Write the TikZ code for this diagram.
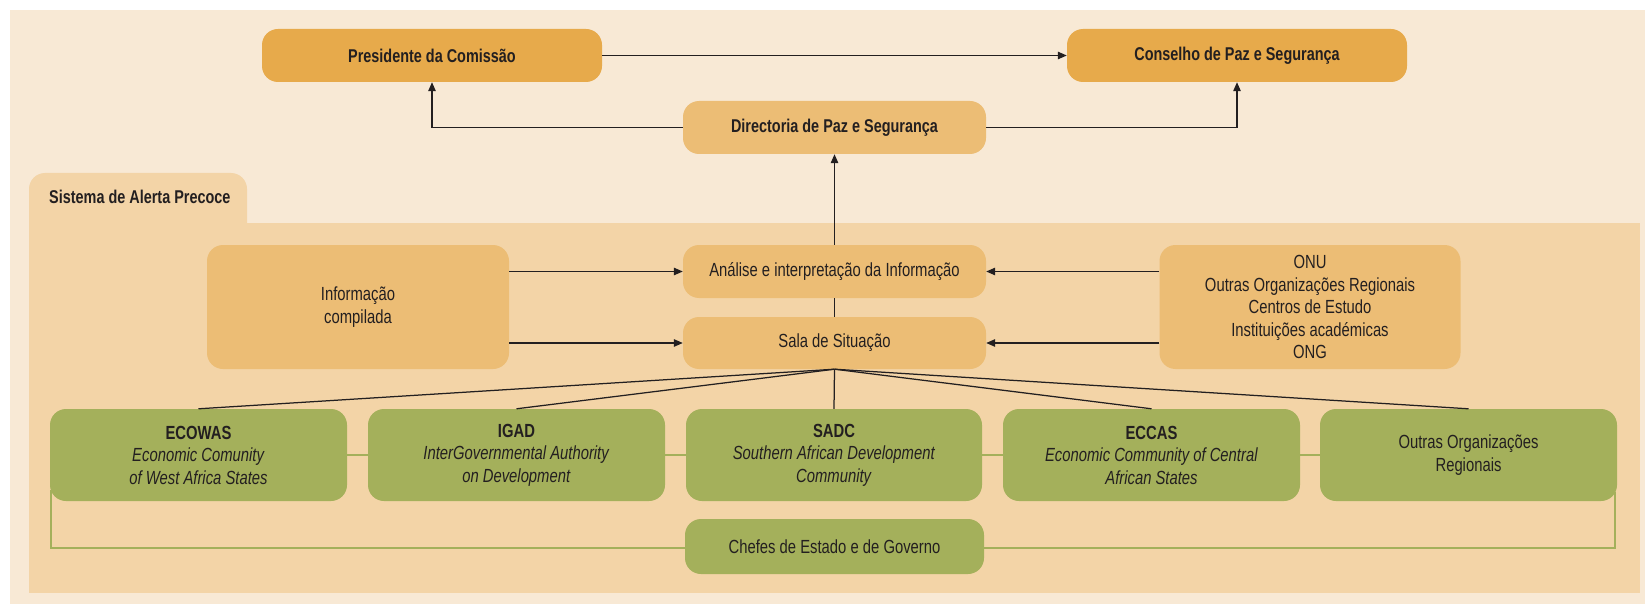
\documentclass[tikz,border=0pt]{standalone}
\usepackage{fontspec}
\setmainfont{Liberation Sans}[FakeStretch=0.78]
\usetikzlibrary{arrows.meta}
\definecolor{bgl}{HTML}{F8E9D5}
\definecolor{panel}{HTML}{F3D4A7}
\definecolor{ortop}{HTML}{E7AA4B}
\definecolor{orl}{HTML}{ECBD75}
\definecolor{grn}{HTML}{A4B05B}
\definecolor{ink}{HTML}{231F20}
\tikzset{
  box/.style={rounded corners=16pt, inner sep=0pt, align=center, text=ink,
    font=\fontsize{19}{22.5}\selectfont},
  boldtext/.style={font=\fontsize{18.5}{22.5}\selectfont\bfseries},
  topbox/.style={box, fill=ortop, minimum width=340pt, minimum height=53pt, boldtext},
  midbox/.style={box, fill=orl, minimum width=303pt, minimum height=53pt},
  bigbox/.style={box, fill=orl, minimum width=301pt, minimum height=124pt},
  gbox/.style={box, fill=grn, minimum width=297pt, minimum height=92pt},
  arr/.style={draw=ink, line width=1.25pt, -{Triangle[length=9pt,width=7.5pt]}},
  ln/.style={draw=ink, line width=1.25pt},
  gln/.style={draw=grn, line width=2.4pt},
}
\begin{document}
\begin{tikzpicture}[x=1pt,y=-1pt]
\useasboundingbox (0,0) rectangle (1645,604);
\fill[white] (0,0) rectangle (1645,604);
\fill[bgl] (10,10) rectangle (1645,604);
% panel with tab
\fill[panel, rounded corners=16pt] (29,173) rectangle (247,260);
\fill[panel] (29,223) rectangle (1640,593);
\node[anchor=base west, text=ink, inner sep=0pt, boldtext] (tab) at (49,204) {Sistema de Alerta Precoce};
% top
\node[topbox] (pres) at (432,55.5) {Presidente da Comissão};
\node[topbox] (cons) at (1237,55.5) {Conselho de Paz e Segurança};
\node[midbox, boldtext] (dir) at (834.5,127.5) {Directoria de Paz e Segurança};
% middle
\node[midbox] (ana) at (834.5,271.5) {Análise e interpretação da Informação};
\node[midbox, minimum height=52pt] (sala) at (834.5,343) {Sala de Situação};
\node[bigbox, minimum width=302pt] (info) at (358,307) {Informação\\compilada};
\node[bigbox] (onu) at (1310,307) {ONU\\Outras Organizações Regionais\\Centros de Estudo\\Instituições académicas\\ONG};
% green
\node[gbox] (ecowas) at (198.5,455) {\textbf{ECOWAS}\\\textit{Economic Comunity}\\\textit{of West Africa States}};
\node[gbox] (igad) at (516.5,455) {\textbf{IGAD}\\\textit{InterGovernmental Authority}\\\textit{on Development}};
\node[gbox, minimum width=296pt] (sadc) at (834,455) {\textbf{SADC}\\\textit{Southern African Development}\\\textit{Community}};
\node[gbox] (eccas) at (1151.5,455) {\textbf{ECCAS}\\\textit{Economic Community of Central}\\\textit{African States}};
\node[gbox] (outras) at (1468.5,455) {Outras Organizações\\Regionais};
\node[box, fill=grn, minimum width=299pt, minimum height=55pt] (chefes) at (834.5,546.5) {Chefes de Estado e de Governo};
% connectors top
\draw[arr] (pres.east) -- (cons.west);
\draw[arr] (dir.west) -| (pres.south);
\draw[arr] (dir.east) -| (cons.south);
\draw[arr] (ana.north) -- (dir.south);
\draw[ln] (ana.south) -- (sala.north);
\draw[arr] (info.east |- ana.west) -- (ana.west);
\draw[arr] (info.east |- sala.west) -- (sala.west);
\draw[arr] (onu.west |- ana.east) -- (ana.east);
\draw[arr] (onu.west |- sala.east) -- (sala.east);
% fan
\foreach \g in {ecowas,igad,sadc,eccas,outras}{
  \draw[ln] (sala.south) -- (\g.north);
}
% green links
\draw[gln] (ecowas.east) -- (igad.west);
\draw[gln] (igad.east) -- (sadc.west);
\draw[gln] (sadc.east) -- (eccas.west);
\draw[gln] (eccas.east) -- (outras.west);
\coordinate (gla) at (51,490);
\coordinate (glb) at (51,548);
\coordinate (gra) at (1615,492);
\coordinate (grb) at (1615,548);
\draw[gln] (gla) -- (glb) -- (chefes.west |- glb);
\draw[gln] (chefes.east |- grb) -- (grb) -- (gra);
\end{tikzpicture}
\end{document}
